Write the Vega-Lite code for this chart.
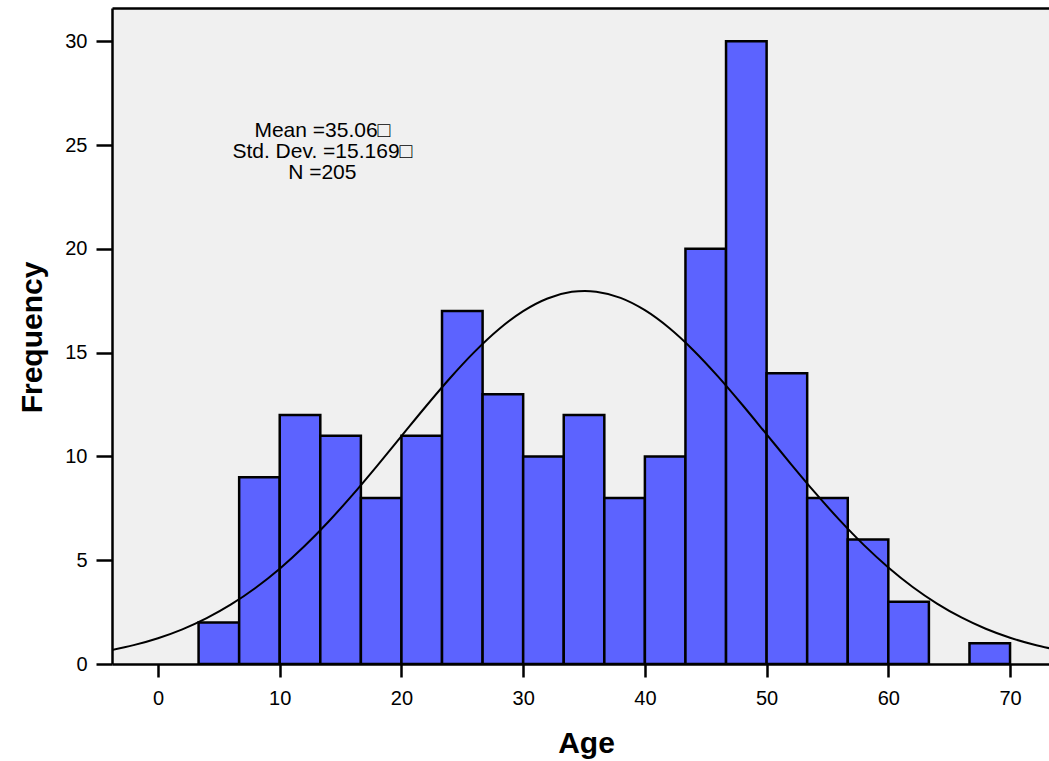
{
  "$schema": "https://vega.github.io/schema/vega-lite/v6.json",
  "width": 937,
  "height": 656,
  "autosize": {"type": "none"},
  "padding": {"left": 112, "top": 8, "right": 0, "bottom": 97},
  "background": "white",
  "config": {
    "view": {"fill": "#f0f0f0", "stroke": null},
    "font": "Liberation Sans",
    "axis": {"grid": false}
  },
  "datasets": {
    "bins": [
      {"start": 3.333, "end": 6.667, "count": 2},
      {"start": 6.667, "end": 10, "count": 9},
      {"start": 10, "end": 13.333, "count": 12},
      {"start": 13.333, "end": 16.667, "count": 11},
      {"start": 16.667, "end": 20, "count": 8},
      {"start": 20, "end": 23.333, "count": 11},
      {"start": 23.333, "end": 26.667, "count": 17},
      {"start": 26.667, "end": 30, "count": 13},
      {"start": 30, "end": 33.333, "count": 10},
      {"start": 33.333, "end": 36.667, "count": 12},
      {"start": 36.667, "end": 40, "count": 8},
      {"start": 40, "end": 43.333, "count": 10},
      {"start": 43.333, "end": 46.667, "count": 20},
      {"start": 46.667, "end": 50, "count": 30},
      {"start": 50, "end": 53.333, "count": 14},
      {"start": 53.333, "end": 56.667, "count": 8},
      {"start": 56.667, "end": 60, "count": 6},
      {"start": 60, "end": 63.333, "count": 3},
      {"start": 66.667, "end": 70, "count": 1}
    ],
    "curve": [
      {"age": -4, "freq": 0.653}, {"age": -2, "freq": 0.909}, {"age": 0, "freq": 1.243},
      {"age": 2, "freq": 1.671}, {"age": 4, "freq": 2.209}, {"age": 6, "freq": 2.868},
      {"age": 8, "freq": 3.661}, {"age": 10, "freq": 4.590}, {"age": 12, "freq": 5.659},
      {"age": 14, "freq": 6.854}, {"age": 16, "freq": 8.160}, {"age": 18, "freq": 9.548},
      {"age": 20, "freq": 10.978}, {"age": 22, "freq": 12.404}, {"age": 24, "freq": 13.776},
      {"age": 26, "freq": 15.034}, {"age": 28, "freq": 16.125}, {"age": 30, "freq": 16.998},
      {"age": 32, "freq": 17.608}, {"age": 34, "freq": 17.926}, {"age": 35.06, "freq": 17.97},
      {"age": 36, "freq": 17.935}, {"age": 38, "freq": 17.636}, {"age": 40, "freq": 17.042},
      {"age": 42, "freq": 16.184}, {"age": 44, "freq": 15.105}, {"age": 46, "freq": 13.855},
      {"age": 48, "freq": 12.488}, {"age": 50, "freq": 11.064}, {"age": 52, "freq": 9.633},
      {"age": 54, "freq": 8.242}, {"age": 56, "freq": 6.930}, {"age": 58, "freq": 5.727},
      {"age": 60, "freq": 4.652}, {"age": 62, "freq": 3.712}, {"age": 64, "freq": 2.912},
      {"age": 66, "freq": 2.244}, {"age": 68, "freq": 1.700}, {"age": 70, "freq": 1.266},
      {"age": 72, "freq": 0.926}, {"age": 74, "freq": 0.666}
    ],
    "stats": [
      {"label": "Mean =35.06□\nStd. Dev. =15.169□\nN =205"}
    ]
  },
  "resolve": {"axis": {"x": "independent", "y": "independent"}},
  "layer": [
    {
      "data": {"name": "bins"},
      "mark": {"type": "bar", "fill": "#5c63ff", "stroke": "black", "strokeWidth": 2.5, "clip": true},
      "encoding": {
        "x": {
          "field": "start", "type": "quantitative",
          "scale": {"domain": [-3.78, 73.2], "nice": false, "zero": false},
          "axis": {
            "orient": "bottom",
            "values": [0, 10, 20, 30, 40, 50, 60, 70],
            "title": "Age",
            "titleFont": "Liberation Sans",
            "titleFontSize": 30,
            "titleFontWeight": "bold",
            "titleColor": "black",
            "titleX": 474,
            "titleY": 88,
            "titleBaseline": "alphabetic",
            "titleAlign": "center",
            "labelFontSize": 20,
            "labelColor": "black",
            "labelPadding": 11,
            "labelFlush": false,
            "tickSize": 13,
            "tickWidth": 2.5,
            "tickColor": "black",
            "domainColor": "black",
            "domainWidth": 2.5
          }
        },
        "x2": {"field": "end"},
        "y": {
          "field": "count", "type": "quantitative",
          "scale": {"domain": [0, 31.6], "nice": false},
          "axis": {
            "orient": "left",
            "values": [0, 5, 10, 15, 20, 25, 30],
            "title": "Frequency",
            "titleFont": "Liberation Sans",
            "titleFontSize": 30,
            "titleFontWeight": "bold",
            "titleColor": "black",
            "titleAngle": -90,
            "titleX": -71,
            "titleY": 329,
            "titleBaseline": "alphabetic",
            "titleAlign": "center",
            "labelFontSize": 20,
            "labelColor": "black",
            "labelPadding": 9,
            "labelFlush": false,
            "tickSize": 16,
            "tickWidth": 2.5,
            "tickColor": "black",
            "domainColor": "black",
            "domainWidth": 2.5
          }
        },
        "y2": {"datum": 0}
      }
    },
    {
      "data": {"name": "curve"},
      "mark": {"type": "line", "color": "black", "strokeWidth": 2, "clip": true, "interpolate": "monotone"},
      "encoding": {
        "x": {
          "field": "age", "type": "quantitative",
          "axis": {"orient": "top", "labels": false, "ticks": false, "title": null, "domainColor": "black", "domainWidth": 2.5}
        },
        "y": {
          "field": "freq", "type": "quantitative",
          "axis": null
        }
      }
    },
    {
      "data": {"name": "stats"},
      "mark": {
        "type": "text",
        "lineBreak": "\n",
        "lineHeight": 21,
        "font": "Liberation Sans",
        "fontSize": 21,
        "align": "center",
        "baseline": "middle",
        "color": "black"
      },
      "encoding": {
        "text": {"field": "label", "type": "nominal"},
        "x": {"datum": 13.5, "type": "quantitative", "axis": null},
        "y": {"datum": 25.69, "type": "quantitative", "axis": null}
      }
    }
  ]
}
